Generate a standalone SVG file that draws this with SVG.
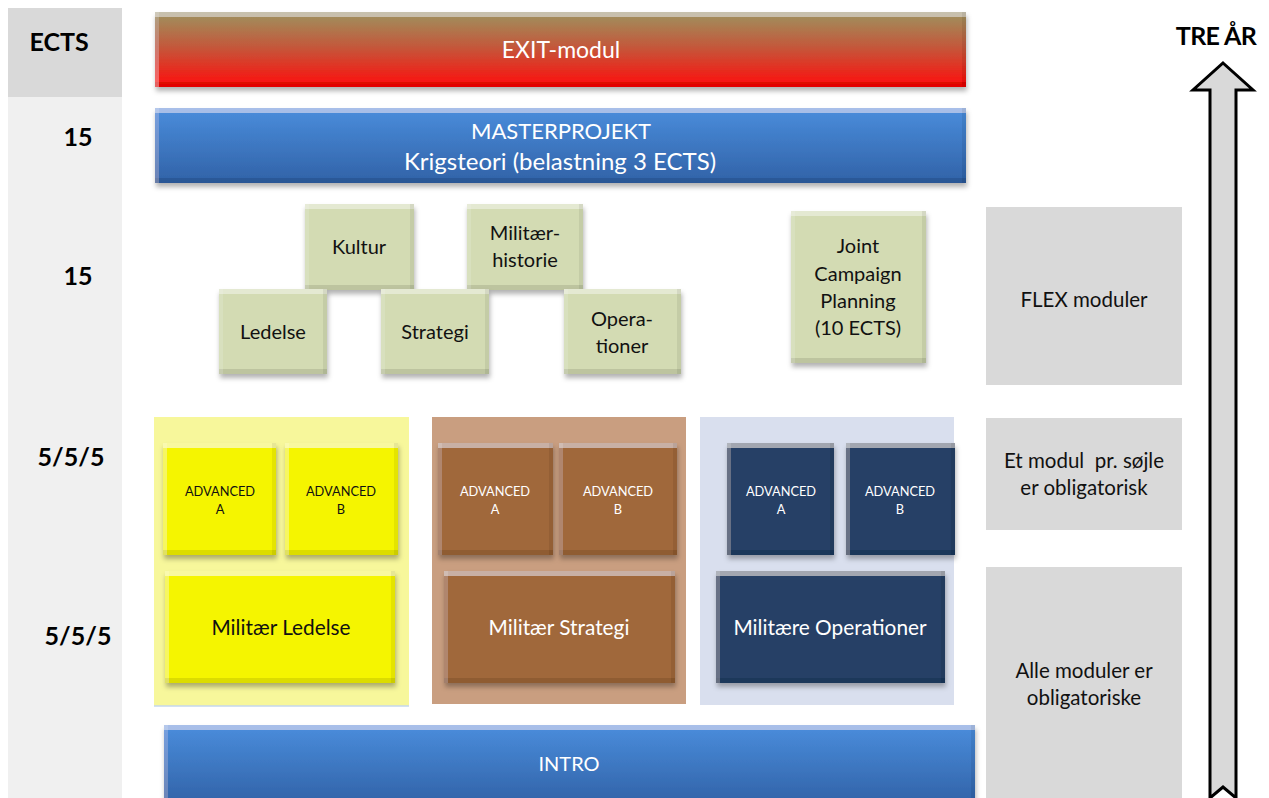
<svg xmlns="http://www.w3.org/2000/svg" width="1269" height="798" viewBox="0 0 1269 798">
  <style>
    text { font-family: Lato, "Noto Sans", "Liberation Sans", sans-serif; text-anchor: middle; }
    .num { font-weight: bold; font-size: 25px; fill: #000; }
    .bar { font-size: 22px; fill: #fff; }
    .g { font-size: 20px; fill: #111; }
    .note { font-size: 20.5px; fill: #111; }
    .adv { font-size: 12.8px; }
    .big { font-size: 20.8px; }
    .w { fill: #fff; }
    .k { fill: #111; }
    .green { fill: #d3dbb3; }
    .yel { fill: #f5f500; }
    .brn { fill: #a0673a; }
    .dbl { fill: #273f66; }
    .gray { fill: #d9d9d9; }
  </style>
  <defs>
    <linearGradient id="gExit" x1="0" y1="0" x2="0" y2="1">
      <stop offset="0" stop-color="#9d935f"/>
      <stop offset="0.45" stop-color="#c25a3c"/>
      <stop offset="1" stop-color="#ff0c0c"/>
    </linearGradient>
    <linearGradient id="gBlue" x1="0" y1="0" x2="0" y2="1">
      <stop offset="0" stop-color="#4a8ddc"/>
      <stop offset="1" stop-color="#3162a7"/>
    </linearGradient>
    <filter id="bevel" x="-5%" y="-10%" width="112%" height="130%">
      <feOffset in="SourceAlpha" dy="5" result="dn"/>
      <feComposite in="SourceAlpha" in2="dn" operator="out" result="topEdge"/>
      <feFlood flood-color="#ffffff" flood-opacity="0.35"/>
      <feComposite in2="topEdge" operator="in" result="hi"/>
      <feOffset in="SourceAlpha" dy="-5" result="up"/>
      <feComposite in="SourceAlpha" in2="up" operator="out" result="botEdge"/>
      <feFlood flood-color="#000000" flood-opacity="0.22"/>
      <feComposite in2="botEdge" operator="in" result="lo"/>
      <feOffset in="SourceAlpha" dx="4" result="rt"/>
      <feComposite in="SourceAlpha" in2="rt" operator="out" result="leftEdge"/>
      <feFlood flood-color="#ffffff" flood-opacity="0.12"/>
      <feComposite in2="leftEdge" operator="in" result="lhi"/>
      <feOffset in="SourceAlpha" dx="-4" result="lf"/>
      <feComposite in="SourceAlpha" in2="lf" operator="out" result="rightEdge"/>
      <feFlood flood-color="#000000" flood-opacity="0.15"/>
      <feComposite in2="rightEdge" operator="in" result="rlo"/>
      <feGaussianBlur in="SourceAlpha" stdDeviation="2.5"/>
      <feOffset dx="1" dy="4" result="sb"/>
      <feFlood flood-color="#000000" flood-opacity="0.3"/>
      <feComposite in2="sb" operator="in" result="shadow"/>
      <feMerge>
        <feMergeNode in="shadow"/>
        <feMergeNode in="SourceGraphic"/>
        <feMergeNode in="hi"/>
        <feMergeNode in="lo"/>
        <feMergeNode in="lhi"/>
        <feMergeNode in="rlo"/>
      </feMerge>
    </filter>
  </defs>

  <g id="ects-column">
    <rect x="8" y="8" width="114" height="89" fill="#d9d9d9"/>
    <rect x="8" y="97" width="114" height="701" fill="#f0f0f0"/>
    <text class="num" x="59" y="51">ECTS</text>
    <text class="num" x="78" y="146">15</text>
    <text class="num" x="78" y="285">15</text>
    <text class="num" x="71" y="466">5/5/5</text>
    <text class="num" x="78" y="645">5/5/5</text>
  </g>

  <g id="exit-modul">
    <rect x="155" y="12" width="811" height="75" fill="url(#gExit)" filter="url(#bevel)"/>
    <text class="bar" x="561" y="58" style="font-size:23px">EXIT-modul</text>
  </g>

  <g id="masterprojekt">
    <rect x="155" y="108" width="811" height="75" fill="url(#gBlue)" filter="url(#bevel)"/>
    <text class="bar" x="561" y="139">MASTERPROJEKT</text>
    <text class="bar" x="560" y="170" style="font-size:24px">Krigsteori (belastning 3 ECTS)</text>
  </g>

  <g id="flex-kultur">
    <rect class="green" x="305" y="204" width="109" height="86" filter="url(#bevel)"/>
    <text class="g" x="359" y="254">Kultur</text>
  </g>
  <g id="flex-militaerhistorie">
    <rect class="green" x="467" y="204" width="116" height="86" filter="url(#bevel)"/>
    <text class="g" x="525" y="240">Militær-</text>
    <text class="g" x="525" y="267">historie</text>
  </g>
  <g id="flex-ledelse">
    <rect class="green" x="219" y="289" width="108" height="85" filter="url(#bevel)"/>
    <text class="g" x="273" y="339">Ledelse</text>
  </g>
  <g id="flex-strategi">
    <rect class="green" x="381" y="289" width="108" height="85" filter="url(#bevel)"/>
    <text class="g" x="435" y="339">Strategi</text>
  </g>
  <g id="flex-operationer">
    <rect class="green" x="564" y="289" width="117" height="85" filter="url(#bevel)"/>
    <text class="g" x="622" y="326">Opera-</text>
    <text class="g" x="622" y="353">tioner</text>
  </g>
  <g id="flex-jcp">
    <rect class="green" x="791" y="211" width="135" height="152" filter="url(#bevel)"/>
    <text class="g" x="858" y="253">Joint</text>
    <text class="g" x="858" y="281">Campaign</text>
    <text class="g" x="858" y="308">Planning</text>
    <text class="g" x="858" y="335">(10 ECTS)</text>
  </g>

  <g id="note-flex">
    <rect class="gray" x="986" y="207" width="196" height="178"/>
    <text class="note" x="1084" y="307">FLEX moduler</text>
  </g>
  <g id="note-et-modul">
    <rect class="gray" x="986" y="418" width="196" height="112"/>
    <text class="note" x="1084" y="468" style="white-space:pre">Et modul  pr. søjle</text>
    <text class="note" x="1084" y="495">er obligatorisk</text>
  </g>
  <g id="note-alle">
    <rect class="gray" x="986" y="567" width="196" height="231"/>
    <text class="note" x="1084" y="678">Alle moduler er</text>
    <text class="note" x="1084" y="705">obligatoriske</text>
  </g>

  <g id="pillar-ledelse">
    <rect x="154" y="417" width="255" height="289" fill="#f7f79b"/>
    <line x1="154" y1="706" x2="409" y2="706" stroke="#c5d7ee" stroke-width="1.5"/>
    <g id="ledelse-advanced-a">
      <rect class="yel" x="163" y="443" width="113" height="112" filter="url(#bevel)"/>
      <text class="adv k" x="220" y="496">ADVANCED</text>
      <text class="adv k" x="220" y="514">A</text>
    </g>
    <g id="ledelse-advanced-b">
      <rect class="yel" x="285" y="443" width="113" height="112" filter="url(#bevel)"/>
      <text class="adv k" x="341" y="496">ADVANCED</text>
      <text class="adv k" x="341" y="514">B</text>
    </g>
    <g id="militaer-ledelse">
      <rect class="yel" x="165" y="571" width="230" height="112" filter="url(#bevel)"/>
      <text class="big k" x="281" y="635">Militær Ledelse</text>
    </g>
  </g>

  <g id="pillar-strategi">
    <rect x="432" y="417" width="254" height="287" fill="#c99e80"/>
    <g id="strategi-advanced-a">
      <rect class="brn" x="438" y="443" width="115" height="112" filter="url(#bevel)"/>
      <text class="adv w" x="495" y="496">ADVANCED</text>
      <text class="adv w" x="495" y="514">A</text>
    </g>
    <g id="strategi-advanced-b">
      <rect class="brn" x="559" y="443" width="118" height="112" filter="url(#bevel)"/>
      <text class="adv w" x="618" y="496">ADVANCED</text>
      <text class="adv w" x="618" y="514">B</text>
    </g>
    <g id="militaer-strategi">
      <rect class="brn" x="444" y="571" width="231" height="112" filter="url(#bevel)"/>
      <text class="big w" x="559" y="635">Militær Strategi</text>
    </g>
  </g>

  <g id="pillar-operationer">
    <rect x="700" y="417" width="254" height="288" fill="#d9dfee"/>
    <g id="operationer-advanced-a">
      <rect class="dbl" x="727" y="443" width="107" height="112" filter="url(#bevel)"/>
      <text class="adv w" x="781" y="496">ADVANCED</text>
      <text class="adv w" x="781" y="514">A</text>
    </g>
    <g id="operationer-advanced-b">
      <rect class="dbl" x="846" y="443" width="109" height="112" filter="url(#bevel)"/>
      <text class="adv w" x="900" y="496">ADVANCED</text>
      <text class="adv w" x="900" y="514">B</text>
    </g>
    <g id="militaere-operationer">
      <rect class="dbl" x="716" y="571" width="229" height="112" filter="url(#bevel)"/>
      <text class="big w" x="830" y="635">Militære Operationer</text>
    </g>
  </g>

  <g id="intro">
    <rect x="164" y="725" width="811" height="80" fill="url(#gBlue)" filter="url(#bevel)"/>
    <text class="bar" x="569" y="771" style="font-size:20px">INTRO</text>
  </g>

  <g id="connectors">
    <polygon points="1223,63 1253,90 1236,90 1236,798 1223,787 1210,798 1210,90 1193,90" fill="#d9d9d9" stroke="#000" stroke-width="3" stroke-linejoin="miter"/>
  </g>
  <g id="tre-aar">
    <text class="num" x="1216" y="45" style="font-size:25px; letter-spacing:-0.6px">TRE ÅR</text>
  </g>
</svg>
